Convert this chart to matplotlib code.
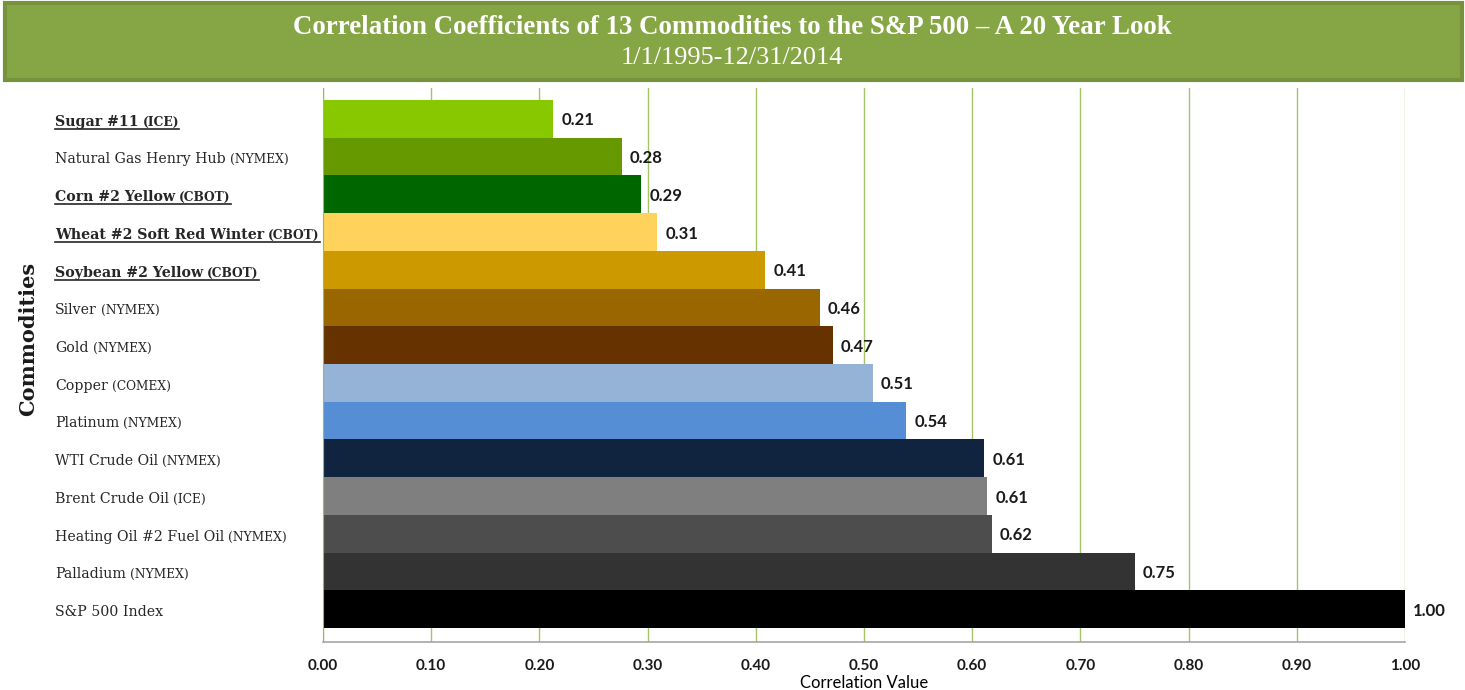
import matplotlib.pyplot as plt
from matplotlib.patches import Rectangle
from matplotlib.lines import Line2D
from matplotlib.transforms import blended_transform_factory

# data, top bar first
names = [
    "Sugar #11", "Natural Gas Henry Hub", "Corn #2 Yellow", "Wheat #2 Soft Red Winter",
    "Soybean #2 Yellow", "Silver", "Gold", "Copper", "Platinum", "WTI Crude Oil",
    "Brent Crude Oil", "Heating Oil #2 Fuel Oil", "Palladium", "S&P 500 Index",
]
exchanges = ["ICE", "NYMEX", "CBOT", "CBOT", "CBOT", "NYMEX", "NYMEX", "COMEX",
             "NYMEX", "NYMEX", "ICE", "NYMEX", "NYMEX", ""]
underlined = [True, False, True, True, True, False, False, False, False, False,
              False, False, False, False]
values = [0.2126, 0.2760, 0.2940, 0.3090, 0.4085, 0.4590, 0.4710, 0.5080,
          0.5390, 0.6110, 0.6140, 0.6180, 0.7500, 1.0000]
colors = ["#88C800", "#669900", "#006600", "#FFD35B", "#CC9900", "#996600",
          "#663300", "#95B3D7", "#558ED5", "#10243F", "#7F7F7F", "#4D4D4D",
          "#333333", "#000000"]
xticks = [0.0, 0.1, 0.2, 0.3, 0.4, 0.5, 0.6, 0.7, 0.8, 0.9, 1.0]

W, H = 1465, 690
fig = plt.figure(figsize=(W / 100, H / 100), dpi=100)
ax = fig.add_axes([323 / W, 48 / H, (1405 - 323) / W, (642 - 88) / H])

ypos = list(range(len(values)))
ax.barh(ypos, values, height=1.0, color=colors, linewidth=0, zorder=2)
ax.set_ylim(13.87, -0.82)
ax.set_xlim(0, 1.0)

for x in xticks:
    ax.axvline(x, color="#A5C46A", lw=1.0, zorder=1)

for y, v in zip(ypos, values):
    ax.annotate(f"{v:.2f}", (v, y), xytext=(6, 0), textcoords="offset points",
                ha="left", va="center_baseline", fontsize=12, fontweight="bold",
                family="Lato", color="#1a1a1a")

ax.set_xticks(xticks)
ax.set_xticklabels([f"{x:.2f}" for x in xticks], fontsize=11, fontweight="bold",
                   family="Lato", color="#1a1a1a")
ax.tick_params(axis="x", length=0, pad=12)
ax.set_yticks([])
for s in ["top", "right"]:
    ax.spines[s].set_visible(False)
ax.spines["bottom"].set_color("#A6A6A6")
ax.spines["bottom"].set_linewidth(1.2)
ax.spines["left"].set_color("#9BBB59")
ax.set_xlabel("Correlation Value", fontsize=12, family="Lato", labelpad=2)

# green banner
fig.patches.append(Rectangle((5 / W, 1 - 80 / H), 1457 / W, 77 / H, transform=fig.transFigure,
                             facecolor="#86A646", edgecolor="#76923C", lw=3, zorder=0))
fig.text(732 / W, 1 - 27 / H, "Correlation Coefficients of 13 Commodities to the S&P 500 \u2013 A 20 Year Look",
         ha="center", va="center", color="white", fontsize=19.4, fontweight="bold",
         family="Liberation Serif")
fig.text(732 / W, 1 - 58 / H, "1/1/1995-12/31/2014", ha="center", va="center",
         color="white", fontsize=18.9, family="Liberation Serif")

fig.text(28 / W, 1 - 339 / H, "Commodities", rotation=90, ha="center", va="center",
         fontsize=15, fontweight="bold", family="DejaVu Serif", color="#1a1a1a")

# category labels: name + small caps exchange, some underlined
trans = blended_transform_factory(fig.transFigure, ax.transData)
mains = []
for y, name, ul in zip(ypos, names, underlined):
    t = ax.text(55 / W, y + 0.18, name, transform=trans, ha="left", va="baseline",
                fontsize=10.2, family="DejaVu Serif", color="#262626",
                fontweight="bold" if ul else "normal", clip_on=False)
    mains.append(t)

fig.canvas.draw()
renderer = fig.canvas.get_renderer()
for t, y, ex, ul in zip(mains, ypos, exchanges, underlined):
    bb = t.get_window_extent(renderer)
    x_end = bb.x1
    if ex:
        t2 = ax.text((bb.x1 + 4) / W, y + 0.18, f"({ex})", transform=trans, ha="left",
                     va="baseline", fontsize=8.8, family="DejaVu Serif", color="#262626",
                     fontweight="bold" if ul else "normal", clip_on=False)
        x_end = t2.get_window_extent(renderer).x1
    if ul:
        yb = ax.transData.transform((0, y + 0.18))[1] - 3
        fig.lines.append(Line2D([bb.x0 / W, x_end / W], [yb / H, yb / H],
                                transform=fig.transFigure, color="#262626", lw=1.2))

fig.savefig("out.png", dpi=100)
